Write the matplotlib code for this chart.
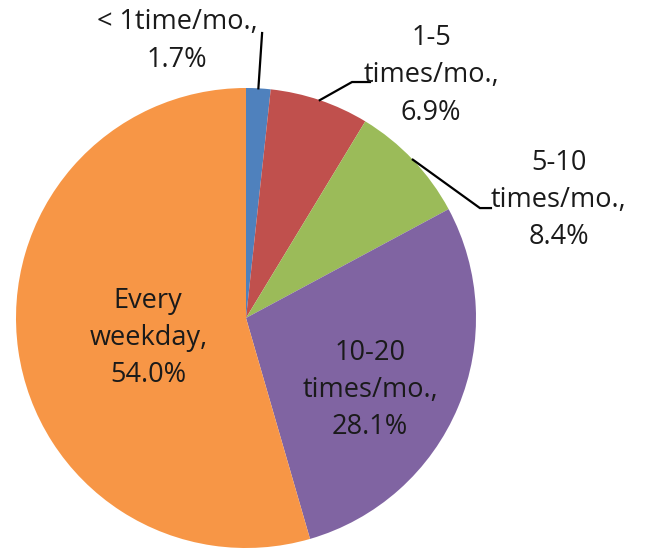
import numpy as np
import matplotlib
matplotlib.use("Agg")
import matplotlib.pyplot as plt

# Commute frequency shares (percent), drawn clockwise from 12 o'clock
categories = ["< 1time/mo.", "1-5\ntimes/mo.", "5-10\ntimes/mo.", "10-20\ntimes/mo.", "Every\nweekday"]
values = [1.7, 6.9, 8.4, 28.1, 54.0]
colors = ["#4F81BD", "#C0504D", "#9BBB59", "#8064A2", "#F79646"]

plt.rcParams["font.family"] = ["Open Sans", "DejaVu Sans"]

fig = plt.figure(figsize=(6.47, 5.54), dpi=100)
ax = fig.add_axes([16 / 647, 6 / 554, 460 / 647, 460 / 554])

wedges, _ = ax.pie(values, colors=colors, startangle=90, counterclock=False,
                   radius=1.0, center=(0, 0),
                   wedgeprops=dict(linewidth=0))
ax.set_xlim(-1, 1)
ax.set_ylim(-1, 1)
ax.set_aspect("equal")
ax.axis("off")

labels = [f"{c},\n{v:.1f}%" for c, v in zip(categories, values)]

# label centres (data units, pie radius = 1)
label_pos = [(-0.30, 1.205), (0.805, 1.055), (1.36, 0.513), (0.54, -0.313), (-0.425, -0.087)]
# leader line elbows for the outside labels
leaders = {
    0: [(0.07, 1.239)],
    1: [(0.461, 1.026), (0.539, 1.026)],
    2: [(1.017, 0.478), (1.065, 0.478)],
}

total = sum(values)
cum = 0.0
for i, (w, lab, pos) in enumerate(zip(wedges, labels, label_pos)):
    mid = 90 - (cum + values[i] / 2) / total * 360
    cum += values[i]
    ax.text(pos[0], pos[1], lab, ha="center", va="center", fontsize=19.5,
            color="#1a1a1a", linespacing=1.45, clip_on=False)
    if i in leaders:
        a = np.deg2rad(mid)
        pts = [(np.cos(a), np.sin(a))] + leaders[i]
        xs, ys = zip(*pts)
        ax.plot(xs, ys, color="black", lw=1.6, clip_on=False, solid_joinstyle="miter")

fig.savefig("out.png", dpi=100, facecolor="white")
